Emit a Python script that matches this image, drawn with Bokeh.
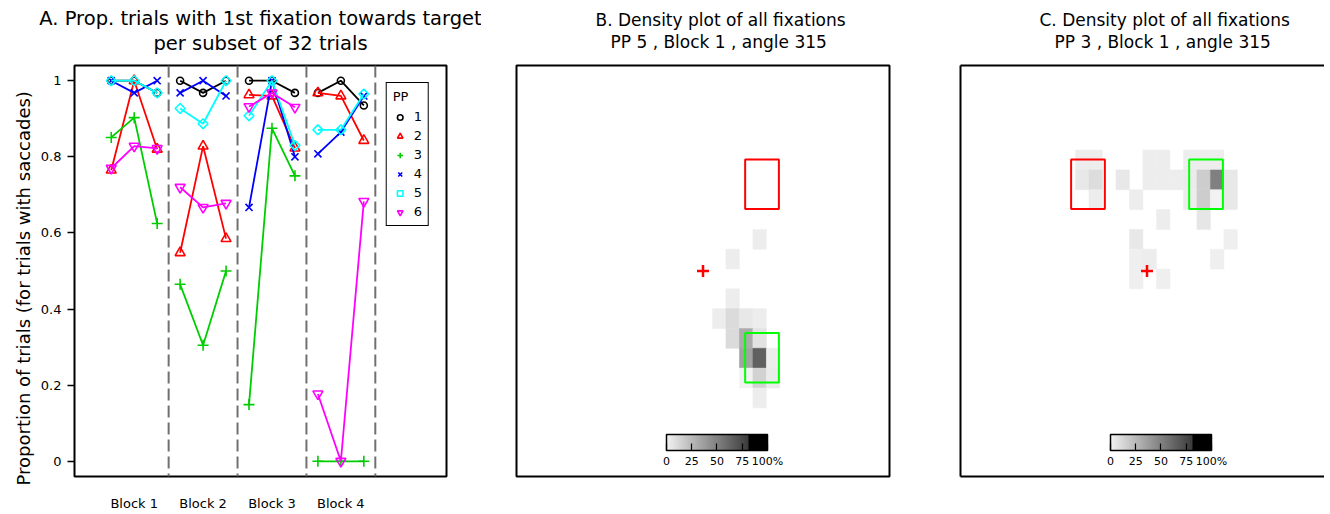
import numpy as np
from bokeh.plotting import figure
from bokeh.models import (Range1d, FixedTicker, Span, Legend, LegendItem, ColorBar,
                          LinearColorMapper, LinearAxis, ColumnDataSource, Title, AllLabels)
from bokeh.transform import transform
from bokeh.layouts import row
from bokeh.embed import file_html
from bokeh.resources import INLINE

FONT = "DejaVu Sans"

# ---------------- Panel A data ----------------
title_a = ["A. Prop. trials with 1st fixation towards target", "per subset of 32 trials"]
block_labels = ["Block 1", "Block 2", "Block 3", "Block 4"]
subsets_per_block = 3
pp_labels = ["1", "2", "3", "4", "5", "6"]
pp1 = [1.0, 1.0, 0.968, 1.0, 0.968, 1.0, 1.0, 1.0, 0.968, 0.968, 1.0, 0.935]
pp2 = [0.765, 1.0, 0.82, 0.548, 0.828, 0.585, 0.963, 0.96, 0.823, 0.968, 0.96, 0.843]
pp3 = [0.851, 0.903, 0.625, 0.465, 0.305, 0.5, 0.149, 0.875, 0.75, 0.0, 0.0, 0.0]
pp4 = [1.0, 0.968, 1.0, 0.968, 1.0, 0.96, 0.667, 1.0, 0.8, 0.808, 0.865, 0.96]
pp5 = [1.0, 1.0, 0.968, 0.927, 0.887, 1.0, 0.908, 1.0, 0.83, 0.871, 0.871, 0.965]
pp6 = [0.77, 0.828, 0.822, 0.72, 0.667, 0.678, 0.932, 0.968, 0.93, 0.177, 0.0, 0.683]
y_ticks = [0, 0.2, 0.4, 0.6, 0.8, 1]
y_tick_labels = ["0", "0.2", "0.4", "0.6", "0.8", "1"]
y_label = "Proportion of trials (for trials with saccades)"

# ---------------- Panels B / C data ----------------
screen_w, screen_h = 1024, 768
cell = 40
fix_x, fix_y = 512, 384
rect_size = 100

title_b = ["B. Density plot of all fixations", "PP 5 , Block 1 , angle 315"]
b_cols = [17, 15, 15, 14, 15, 16, 17, 15, 16, 17, 16, 17, 18, 16, 17, 18, 17]
b_rows = [8, 9, 11, 12, 12, 12, 12, 13, 13, 13, 14, 14, 14, 15, 15, 15, 16]
b_vals = [3, 3, 3, 3, 11, 5, 3, 11, 32, 8, 36, 65, 3, 1, 15, 4, 3]
b_target = (687, 559)
b_distractor = (687, 209)

title_c = ["C. Density plot of all fixations", "PP 3 , Block 1 , angle 315"]
c_cols = [8, 9, 13, 14, 16, 17, 18,
          8, 9, 11, 13, 14, 15, 16, 17, 18, 19,
          9, 12, 16, 17, 18, 19,
          14, 17,
          12, 19,
          12, 13, 18,
          12, 14]
c_rows = [4, 4, 4, 4, 4, 4, 4,
          5, 5, 5, 5, 5, 5, 5, 5, 5, 5,
          6, 6, 6, 6, 6, 6,
          7, 7,
          8, 8,
          9, 9, 9,
          10, 10]
c_vals = [3, 3, 3, 3, 3, 3, 3,
          5, 10, 5, 3, 3, 3, 4, 17, 51, 5,
          3, 3, 3, 17, 1, 5,
          3, 6,
          5, 1.5,
          1.5, 3, 1.5,
          1.5, 1.5]
c_target = (687, 209)
c_distractor = (337, 209)

cbar_ticks = [0, 25, 50, 75, 100]
cbar_labels = ["0", "25", "50", "75", "100%"]

# ---------------- styles ----------------
pp_colors = ["black", "#FF0000", "#00CD00", "#0000FF", "#00FFFF", "#FF00FF"]
pp_markers = ["circle", "triangle", "cross", "x", "square", "inverted_triangle"]
pp_sizes = [7, 10, 11, 10, 7, 10]
pp_angles = [0, 0, 0, 0, np.pi / 4, 0]

TOP = 65
FRAME_H = 414
BOTTOM = 34
FIG_H = TOP + FRAME_H + BOTTOM


def add_title_lines(p, lines, size, align, offsets, gap):
    # spacer panel between frame and the title lines
    p.add_layout(Title(text=" ", text_font_size="1px", standoff=gap), "above")
    # line nearest the frame is added first
    for line, off in [(lines[1], offsets[1]), (lines[0], offsets[0])]:
        p.add_layout(Title(text=line, align=align, offset=off, standoff=0,
                           text_font=FONT, text_font_size=size, text_font_style="normal",
                           text_color="black"), "above")


# ================= Panel A =================
n_sub = subsets_per_block * len(block_labels)
xs_all = list(range(1, n_sub + 1))
pA = figure(width=481, height=FIG_H, output_backend="svg", toolbar_location=None,
            x_range=Range1d(-0.6, 15.6), y_range=Range1d(-0.04, 1.04),
            min_border_left=74, min_border_right=35, min_border_top=TOP, min_border_bottom=BOTTOM)
pA.grid.visible = False
pA.outline_line_color = "black"
pA.outline_line_width = 2
pA.outline_line_alpha = 1

for b in range(1, len(block_labels) + 1):
    pA.add_layout(Span(location=b * subsets_per_block + 0.5, dimension="height",
                       line_color="#707070", line_width=2, line_dash="12 5"))

legend_items = []
for i, vals in enumerate([pp1, pp2, pp3, pp4, pp5, pp6]):
    segx, segy = [], []
    for b in range(len(block_labels)):
        s = slice(b * subsets_per_block, (b + 1) * subsets_per_block)
        segx.append(xs_all[s])
        segy.append(vals[s])
    pA.multi_line(xs=segx, ys=segy, line_color=pp_colors[i], line_width=1.8)
    r = pA.scatter(x=xs_all, y=vals, marker=pp_markers[i], size=pp_sizes[i],
                   angle=pp_angles[i], fill_color=None, line_color=pp_colors[i],
                   line_width=1.6)
    legend_items.append(LegendItem(label=pp_labels[i], renderers=[r]))

legend = Legend(items=legend_items, title="PP", location="top_right", margin=17,
                padding=6, spacing=4, glyph_width=14, glyph_height=14, label_standoff=7,
                label_width=8, label_height=14,
                label_text_font=FONT, label_text_font_size="13px", label_text_color="black",
                title_text_font=FONT, title_text_font_size="13px", title_text_font_style="normal",
                title_text_color="black",
                title_standoff=5, border_line_color="black", border_line_width=1.5,
                border_line_alpha=1, background_fill_alpha=1)
pA.add_layout(legend)

block_centers = [b * subsets_per_block + (subsets_per_block + 1) / 2 for b in range(len(block_labels))]
pA.xaxis.ticker = FixedTicker(ticks=block_centers)
pA.xaxis.major_label_overrides = {c: lab for c, lab in zip(block_centers, block_labels)}
pA.xaxis.axis_line_color = None
pA.xaxis.major_tick_line_color = None
pA.xaxis.major_tick_out = 0
pA.xaxis.major_tick_in = 0
pA.xaxis.minor_tick_line_color = None
pA.xaxis.minor_tick_out = 0
pA.xaxis.axis_label_standoff = 0
pA.xaxis.major_label_standoff = 19
pA.xaxis.major_label_text_font = FONT
pA.xaxis.major_label_text_font_size = "13px"
pA.xaxis.major_label_text_color = "black"

pA.yaxis.ticker = FixedTicker(ticks=y_ticks)
pA.yaxis.major_label_overrides = {t: lab for t, lab in zip(y_ticks, y_tick_labels)}
pA.yaxis.axis_line_color = None
pA.yaxis.major_tick_line_color = "black"
pA.yaxis.major_tick_line_width = 1.5
pA.yaxis.major_tick_out = 7
pA.yaxis.major_tick_in = 0
pA.yaxis.minor_tick_line_color = None
pA.yaxis.major_label_standoff = 6
pA.yaxis.major_label_text_font = FONT
pA.yaxis.major_label_text_font_size = "13px"
pA.yaxis.major_label_text_color = "black"
pA.yaxis.axis_label_standoff = 0

ylab = Title(text=y_label, align="left", offset=-9, standoff=8,
             text_font=FONT, text_font_size="18px", text_font_style="normal",
             text_color="black")
pA.add_layout(ylab, "left")

add_title_lines(pA, title_a, "19.5px", "center", (0, 0), 8)

# ================= Panels B / C =================
gray_levels = np.linspace(242, 60, 81).astype(int)
palette = ["#%02x%02x%02x" % (g, g, g) for g in gray_levels] + ["#000000"] * 19
mapper = LinearColorMapper(palette=palette, low=0, high=100.001)

xscale = 373 / (screen_w * 1.08)


def density_panel(title, cols, rows, vals, target, distractor, frame_w, left, right, boxed):
    x0 = -0.04 * screen_w
    x1 = x0 + frame_w / xscale
    p = figure(width=left + frame_w + right, height=FIG_H, output_backend="svg",
               toolbar_location=None, x_axis_type=None, y_axis_type=None,
               x_range=Range1d(x0, x1),
               y_range=Range1d(screen_h * 1.04, -0.04 * screen_h),
               min_border_left=left, min_border_right=right,
               min_border_top=TOP, min_border_bottom=BOTTOM)
    p.grid.visible = False
    if boxed:
        p.outline_line_color = "black"
        p.outline_line_width = 2
        p.outline_line_alpha = 1
    else:
        p.outline_line_color = None
        for side in ["left", "below", "above"]:
            ax = LinearAxis(ticker=FixedTicker(ticks=[]), axis_line_width=2,
                            axis_line_color="black", major_tick_line_color=None,
                            minor_tick_line_color=None, major_label_text_font_size="0px",
                            major_label_standoff=0, major_tick_out=0, minor_tick_out=0,
                            axis_label_standoff=0)
            p.add_layout(ax, side)
    src = ColumnDataSource(dict(x=[c * cell for c in cols], y=[r * cell for r in rows], v=vals))
    p.rect(x="x", y="y", width=cell, height=cell, source=src,
           fill_color=transform("v", mapper), line_color=transform("v", mapper), line_width=0.5)
    p.rect(x=[target[0], distractor[0]], y=[target[1], distractor[1]],
           width=rect_size, height=rect_size, fill_color=None,
           line_color=["#00FF00", "#FF0000"], line_width=2)
    p.scatter(x=[fix_x], y=[fix_y], marker="cross", size=12, line_color="#FF0000", line_width=2.5)
    cb = ColorBar(color_mapper=mapper, orientation="horizontal", width=101, height=16,
                  location=(150, 6), padding=0, margin=0,
                  ticker=FixedTicker(ticks=cbar_ticks),
                  major_label_overrides={t: lab for t, lab in zip(cbar_ticks, cbar_labels)},
                  major_label_policy=AllLabels(),
                  major_label_text_font=FONT, major_label_text_font_size="11px",
                  major_label_text_color="black", label_standoff=4,
                  major_tick_in=7, major_tick_out=0, major_tick_line_color="black",
                  major_tick_line_width=1.2, minor_tick_line_color=None,
                  bar_line_color="black", bar_line_width=1.5,
                  background_fill_alpha=0, border_line_color=None)
    p.add_layout(cb)
    add_title_lines(p, title, "17px", "left", (79, 94), 11)
    return p


pB = density_panel(title_b, b_cols, b_rows, b_vals, b_target, b_distractor, 373, 35, 35, True)
pC = density_panel(title_c, c_cols, c_rows, c_vals, c_target, c_distractor, 364, 36, 0, False)

layout = row(pA, pB, pC)
open("out.html", "w").write(file_html(layout, INLINE))
